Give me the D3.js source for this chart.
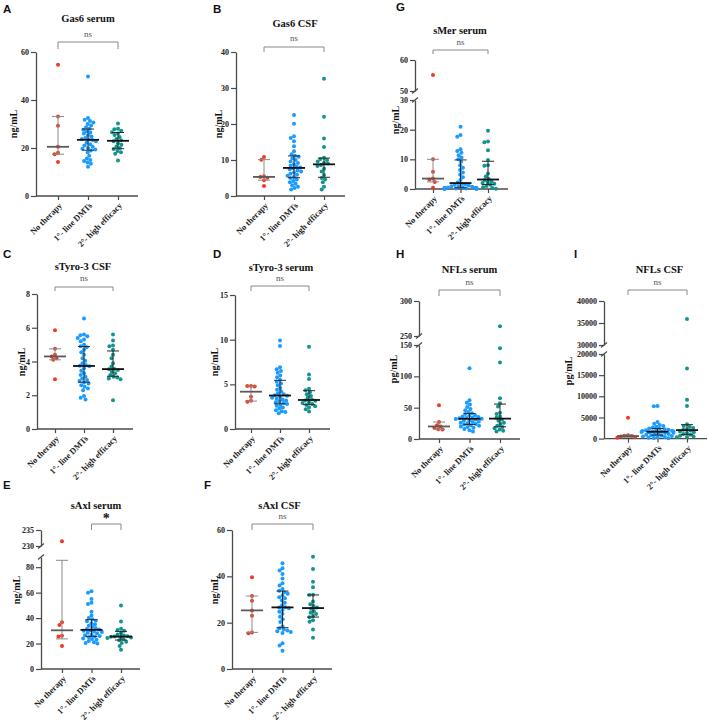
<!DOCTYPE html>
<html>
<head>
<meta charset="utf-8">
<script src="https://cdn.jsdelivr.net/npm/d3@7"></script>
<style>
  body { margin: 0; background: #fff; }
  svg text { font-family: "Liberation Serif", "DejaVu Serif", serif; }
  .letter { font-family: "Liberation Sans", Arial, sans-serif !important; font-weight: bold; font-size: 11.5px; fill: #111; }
  .title { font-weight: bold; font-size: 10.5px; fill: #111; }
  .unit { font-weight: bold; font-size: 10px; fill: #111; }
  .tick text { font-size: 8px; font-weight: bold; fill: #222; }
  .cat text { font-size: 8.5px; fill: #222; }
  .sig { font-size: 9px; fill: #555; }
</style>
</head>
<body>
<svg id="fig" width="708" height="727"></svg>
<script>
const groups = ["No therapy", "1°- line DMTs", "2°- high efficacy"];
const groupColors = ["#f03a22", "#1c9bff", "#14948f"];

// each panel: [no therapy, 1st line DMTs, 2nd high efficacy]
const gas6Serum = [
  [54.7, 33.1, 29.3, 20.5, 18.0, 17.4, 14.2],
  [49.8, 32.5, 31.8, 31.2, 30.6, 30.0, 29.4, 28.6, 28.0, 27.6, 27.0, 26.5, 26.0, 25.3, 24.8, 24.2, 23.8, 23.5, 23.3, 22.8, 22.2, 21.6, 21.0, 20.5, 20.0, 19.7, 19.4, 19.0, 18.2, 16.8, 15.6, 15.0, 14.6, 14.0, 13.4, 12.2],
  [30.2, 28.0, 27.8, 27.2, 26.6, 26.0, 25.4, 24.6, 23.8, 23.2, 22.8, 22.0, 21.4, 20.6, 20.0, 19.6, 18.8, 18.2, 17.6, 14.8]
];
const gas6CSF = [
  [10.8, 10.1, 5.5, 5.3, 5.1, 4.4, 2.8],
  [22.5, 20.1, 16.6, 16.1, 15.2, 13.8, 12.4, 11.6, 11.2, 10.9, 10.5, 10.0, 9.6, 9.2, 8.8, 8.4, 8.1, 7.9, 7.7, 7.4, 7.1, 6.8, 6.5, 6.2, 5.9, 5.6, 5.3, 5.0, 4.6, 4.2, 3.8, 3.4, 3.0, 2.6, 2.2, 1.8],
  [32.6, 22.0, 16.0, 13.6, 10.6, 10.3, 10.0, 9.6, 9.2, 9.0, 8.6, 8.3, 7.6, 6.8, 5.8, 5.0, 4.6, 3.8, 2.6, 1.8]
];
const sMerSerum = [
  [55.2, 10.0, 5.8, 3.5, 3.2, 2.4, 0.4],
  [21.0, 18.2, 17.6, 13.4, 12.8, 12.2, 11.4, 10.6, 10.0, 9.2, 8.0, 7.2, 6.4, 5.6, 4.8, 4.0, 3.0, 2.2, 1.8, 1.6, 1.4, 1.2, 1.0, 0.9, 0.8, 0.6, 0.5, 0.4, 0.4, 0.3, 0.2, 0.2, 0.1, 0.1, 0.0, 0.0],
  [19.6, 16.0, 15.8, 13.1, 9.8, 8.0, 7.8, 5.2, 4.2, 3.4, 3.0, 2.6, 2.2, 2.0, 1.8, 1.4, 1.0, 0.6, 0.3, 0.1]
];
const sTyro3CSF = [
  [5.85, 4.75, 4.4, 4.3, 4.2, 4.1, 2.95],
  [6.55, 5.6, 5.55, 5.5, 5.4, 5.3, 5.2, 5.0, 4.9, 4.85, 4.7, 4.55, 4.4, 4.2, 4.05, 3.9, 3.8, 3.75, 3.72, 3.6, 3.45, 3.3, 3.2, 3.1, 3.0, 2.9, 2.85, 2.75, 2.7, 2.6, 2.5, 2.4, 2.3, 1.95, 1.85, 1.75],
  [5.6, 5.25, 4.95, 4.9, 4.7, 4.4, 4.2, 3.9, 3.7, 3.56, 3.54, 3.5, 3.4, 3.3, 3.2, 3.1, 3.05, 3.0, 2.95, 1.7]
];
const sTyro3Serum = [
  [4.82, 4.8, 4.75, 3.6, 3.15, 3.05],
  [9.9, 9.3, 6.9, 6.7, 6.5, 6.3, 6.0, 5.8, 5.5, 5.3, 5.1, 4.9, 4.6, 4.4, 4.2, 4.0, 3.9, 3.78, 3.72, 3.6, 3.5, 3.4, 3.3, 3.2, 3.1, 3.0, 2.9, 2.8, 2.7, 2.6, 2.4, 2.3, 2.1, 2.0, 1.9, 1.75],
  [9.2, 6.1, 5.6, 4.5, 4.35, 4.1, 3.9, 3.7, 3.5, 3.3, 3.2, 3.15, 3.0, 2.9, 2.8, 2.7, 2.55, 2.4, 2.2, 1.95]
];
const nflSerum = [
  [54, 27, 22, 20, 18, 15.5, 15],
  [113, 62, 58, 55, 51, 48, 46, 43, 41, 40, 38, 37, 36, 35, 34, 33.5, 33, 32.5, 32, 31, 30, 29, 28, 27, 26, 25, 24, 23, 22, 21, 20, 19, 18, 16, 14, 12],
  [264, 145, 122, 65, 57, 52, 42, 40, 36, 34, 31, 29, 26, 24, 21, 19, 17, 15, 13, 12]
];
const nflCSF = [
  [4900, 800, 700, 600, 500, 300, 200],
  [7700, 7650, 3900, 3500, 3200, 3000, 2800, 2600, 2400, 2300, 2200, 2100, 2000, 1900, 1850, 1800, 1700, 1650, 1600, 1550, 1500, 1400, 1300, 1200, 1100, 1000, 900, 800, 700, 600, 500, 400, 300, 200, 150, 100],
  [35900, 16600, 9200, 7700, 3400, 3000, 2800, 2500, 2200, 2100, 1900, 1700, 1500, 1300, 1100, 900, 700, 500, 400, 300]
];
const sAxlSerum = [
  [231.5, 36.7, 34.6, 26.2, 25.5, 18.1],
  [61, 60, 55, 52, 51, 45, 42, 40, 39, 38, 37.5, 36, 35, 34, 33, 32, 31.5, 31, 30.5, 30, 29.5, 29, 28.5, 28, 27, 26.5, 26, 25.5, 25, 24, 23.5, 23, 22, 21, 20.5, 20],
  [49.9, 37.4, 31.6, 30.6, 30.0, 28.2, 27.2, 26.4, 25.8, 25.5, 25.4, 25.2, 24.8, 24.3, 23.5, 22.5, 21.5, 20.4, 18.0, 15.2]
];
const sAxlCSF = [
  [39.6, 31.5, 29.5, 25.3, 23.0, 15.8, 15.4],
  [45.6, 43.5, 42.5, 41.0, 39.1, 37.0, 36.0, 34.5, 33.8, 33.1, 32.5, 31.7, 31.0, 30.5, 29.6, 28.6, 27.5, 26.7, 26.5, 26.2, 25.5, 24.7, 23.8, 22.6, 21.5, 20.3, 18.5, 17.6, 17.0, 16.6, 16.3, 16.0, 15.5, 11.1, 10.1, 7.9],
  [48.5, 43.2, 37.7, 35.3, 32.0, 31.9, 29.1, 28.0, 27.2, 26.6, 26.0, 25.0, 24.3, 23.7, 22.8, 22.3, 21.0, 20.4, 17.1, 13.5]
];

// y ticks per axis segment (lower segment first)
const gas6SerumTicks = [[0, 20, 40, 60]];
const gas6CSFTicks = [[0, 10, 20, 30, 40]];
const sMerTicks = [[0, 10, 20, 30], [50, 60]];
const sTyro3CSFTicks = [[0, 2, 4, 6, 8]];
const sTyro3SerumTicks = [[0, 5, 10, 15]];
const nflSerumTicks = [[0, 50, 100, 150], [250, 300]];
const nflCSFTicks = [[0, 5000, 10000, 15000, 20000], [30000, 35000, 40000]];
const sAxlSerumTicks = [[0, 20, 40, 60, 80], [230, 235]];
const sAxlCSFTicks = [[0, 20, 40, 60]];

const panels = [
  { letter: "A", lx: 3, ly: 13, title: "Gas6 serum", tx: 88, ty: 22, unit: "ng/mL", ux: 13, uy: 124,
    data: gas6Serum, ticks: gas6SerumTicks, ax: 36, xEnd: 138, cx: [58, 118], bottom: 196,
    segs: [{ dom: [0, 60], rng: [196, 52] }], sig: { text: "ns", a: 0, b: 2, by: 42, bh: 7, ty: 37 } },
  { letter: "B", lx: 213, ly: 13, title: "Gas6 CSF", tx: 295, ty: 27, unit: "ng/mL", ux: 218, uy: 124,
    data: gas6CSF, ticks: gas6CSFTicks, ax: 236, xEnd: 345, cx: [264, 324], bottom: 196,
    segs: [{ dom: [0, 40], rng: [196, 52] }], sig: { text: "ns", a: 0, b: 2, by: 47, bh: 5, ty: 41 } },
  { letter: "G", lx: 396, ly: 11, title: "sMer serum", tx: 460, ty: 34, unit: "ng/mL", ux: 395, uy: 120,
    data: sMerSerum, ticks: sMerTicks, ax: 415, xEnd: 508, cx: [433, 488], bottom: 189,
    segs: [{ dom: [0, 30], rng: [189, 100] }, { dom: [50, 60], rng: [91, 60] }], sig: { text: "ns", a: 0, b: 2, by: 50, bh: 4, ty: 45 } },
  { letter: "C", lx: 3, ly: 258, title: "sTyro-3 CSF", tx: 83, ty: 270, unit: "ng/mL", ux: 21, uy: 362,
    data: sTyro3CSF, ticks: sTyro3CSFTicks, ax: 37, xEnd: 133, cx: [55, 113], bottom: 429,
    segs: [{ dom: [0, 8], rng: [429, 294] }], sig: { text: "ns", a: 0, b: 2, by: 287, bh: 4, ty: 281 } },
  { letter: "D", lx: 213, ly: 258, title: "sTyro-3 serum", tx: 281, ty: 271, unit: "ng/mL", ux: 214, uy: 362,
    data: sTyro3Serum, ticks: sTyro3SerumTicks, ax: 235, xEnd: 330, cx: [251, 309], bottom: 429,
    segs: [{ dom: [0, 15], rng: [429, 295] }], sig: { text: "ns", a: 0, b: 2, by: 286, bh: 5, ty: 281 } },
  { letter: "H", lx: 396, ly: 258, title: "NFLs serum", tx: 469.5, ty: 273, unit: "pg/mL", ux: 393, uy: 369,
    data: nflSerum, ticks: nflSerumTicks, ax: 419, xEnd: 520, cx: [439, 500], bottom: 439,
    segs: [{ dom: [0, 150], rng: [439, 345] }, { dom: [250, 300], rng: [336, 301] }], sig: { text: "ns", a: 0, b: 2, by: 290, bh: 6, ty: 285 } },
  { letter: "I", lx: 574, ly: 258, title: "NFLs CSF", tx: 659.5, ty: 273, unit: "pg/mL", ux: 568, uy: 371,
    data: nflCSF, ticks: nflCSFTicks, ax: 604, xEnd: 707, cx: [628, 687], bottom: 438.6,
    segs: [{ dom: [0, 20000], rng: [438.6, 354] }, { dom: [30000, 40000], rng: [345, 301] }], sig: { text: "ns", a: 0, b: 2, by: 290, bh: 5, ty: 285 } },
  { letter: "E", lx: 3, ly: 489, title: "sAxl serum", tx: 96, ty: 509, unit: "ng/mL", ux: 16, uy: 590,
    data: sAxlSerum, ticks: sAxlSerumTicks, ax: 41, xEnd: 140, cx: [62, 121], bottom: 669,
    segs: [{ dom: [0, 88], rng: [669, 557] }, { dom: [230, 235], rng: [546, 530] }], sig: { text: "*", a: 1, b: 2, by: 524, bh: 6, ty: 523 } },
  { letter: "F", lx: 204, ly: 489, title: "sAxl CSF", tx: 279.5, ty: 509, unit: "ng/mL", ux: 214, uy: 590,
    data: sAxlCSF, ticks: sAxlCSFTicks, ax: 232, xEnd: 332, cx: [252, 313], bottom: 669,
    segs: [{ dom: [0, 60], rng: [669, 530] }], sig: { text: "ns", a: 0, b: 2, by: 524, bh: 6, ty: 519 } }
];

const svg = d3.select("#fig");
const AXC = "#4a4a4a";
const R = 2;

// quartiles the way Prism does it: position p*(n+1)
function quant(s, p) {
  const n = s.length, pos = p * (n + 1);
  if (pos <= 1) return s[0];
  if (pos >= n) return s[n - 1];
  const lo = Math.floor(pos), f = pos - lo;
  return s[lo - 1] + f * (s[lo] - s[lo - 1]);
}

// simple beeswarm: smallest horizontal shift that avoids (most) overlap
function swarm(ys, r) {
  const d = 2 * r - 0.3;
  const order = ys.map((y, i) => i).sort((a, b) => ys[a] - ys[b]);
  const placed = [];
  const xs = new Array(ys.length);
  order.forEach(i => {
    const y = ys[i];
    const blocks = placed.filter(p => Math.abs(p.y - y) < d).map(p => {
      const w = Math.sqrt(d * d - (p.y - y) * (p.y - y));
      return [p.x - w, p.x + w];
    });
    let cands = [0];
    blocks.forEach(b => cands.push(b[0], b[1]));
    cands = cands.filter(c => blocks.every(b => c <= b[0] + 1e-6 || c >= b[1] - 1e-6));
    cands.sort((a, b) => Math.abs(a) - Math.abs(b) || a - b);
    xs[i] = Math.max(-16, Math.min(16, cands[0]));
    placed.push({ x: xs[i], y: y });
  });
  return xs;
}

panels.forEach(p => {
  const g = svg.append("g");
  g.append("text").attr("class", "letter").attr("x", p.lx).attr("y", p.ly).text(p.letter);
  g.append("text").attr("class", "title").attr("x", p.tx).attr("y", p.ty)
    .attr("text-anchor", "middle").text(p.title);

  const segs = p.segs.map((s, i) => ({
    scale: d3.scaleLinear().domain(s.dom).range(s.rng),
    ticks: p.ticks[i]
  }));
  const yOf = v => {
    for (let i = segs.length - 1; i >= 0; i--) {
      if (v >= segs[i].scale.domain()[0]) return segs[i].scale(v);
    }
    return segs[0].scale(v);
  };

  // y axis segments
  segs.forEach(s => {
    const a = g.append("g").attr("transform", `translate(${p.ax},0)`)
      .call(d3.axisLeft(s.scale).tickValues(s.ticks).tickFormat(d => String(d))
        .tickSize(5).tickSizeOuter(0).tickPadding(2));
    a.select(".domain").attr("stroke", AXC).attr("stroke-width", 1.3);
    a.selectAll(".tick line").attr("stroke", AXC).attr("stroke-width", 1.2);
  });
  // break marks
  if (segs.length > 1) {
    const yb = [segs[0].scale.range()[1], segs[1].scale.range()[0]];
    yb.forEach(y => {
      g.append("line").attr("x1", p.ax - 3).attr("x2", p.ax + 3)
        .attr("y1", y + 2.5).attr("y2", y - 2.5)
        .attr("stroke", AXC).attr("stroke-width", 1.2);
    });
  }
  g.append("text").attr("class", "unit")
    .attr("transform", `translate(${p.ux},${p.uy}) rotate(-90)`)
    .attr("text-anchor", "middle").attr("dy", "0.35em").text(p.unit);

  // x axis
  const x = d3.scalePoint().domain(groups).range(p.cx);
  const xa = g.append("g").attr("class", "cat").attr("transform", `translate(0,${p.bottom})`)
    .call(d3.axisBottom(x).tickSize(4).tickSizeOuter(0));
  xa.select(".domain").attr("d", `M${p.ax},0H${p.xEnd}`).attr("stroke", AXC).attr("stroke-width", 1.3);
  xa.selectAll(".tick line").attr("stroke", AXC).attr("stroke-width", 1.2);
  xa.selectAll(".tick text").attr("x", 0).attr("y", 0).attr("dy", "0.35em")
    .attr("text-anchor", "end").attr("transform", "translate(2,8) rotate(-45)");

  // points + median / IQR
  p.data.forEach((vals, gi) => {
    const cx = x(groups[gi]);
    const ys = vals.map(yOf);
    const xs = swarm(ys, R);
    g.append("g").selectAll("circle").data(vals).join("circle")
      .attr("cx", (d, i) => cx + xs[i]).attr("cy", (d, i) => ys[i])
      .attr("r", R).attr("fill", groupColors[gi]);

    const s = vals.slice().sort((a, b) => a - b);
    const med = quant(s, 0.5), q1 = quant(s, 0.25), q3 = quant(s, 0.75);
    const medC = gi === 0 ? "#5a5a5a" : "#111";
    const barC = gi === 0 ? "#8a8a8a" : "#2a2a2a";
    const eb = g.append("g").attr("fill", "none");
    eb.append("path").attr("d", `M${cx},${yOf(q1)}V${yOf(q3)}M${cx - 6},${yOf(q1)}H${cx + 6}M${cx - 6},${yOf(q3)}H${cx + 6}`)
      .attr("stroke", barC).attr("stroke-width", 1);
    eb.append("line").attr("x1", cx - 11).attr("x2", cx + 11)
      .attr("y1", yOf(med)).attr("y2", yOf(med))
      .attr("stroke", medC).attr("stroke-width", 1.8);
  });

  // significance bracket
  const sg = p.sig;
  const xa0 = x(groups[sg.a]), xb0 = x(groups[sg.b]);
  g.append("path").attr("d", `M${xa0},${sg.by + sg.bh}V${sg.by}H${xb0}V${sg.by + sg.bh}`)
    .attr("fill", "none").attr("stroke", "#888").attr("stroke-width", 1);
  const st = g.append("text").attr("class", "sig").attr("x", (xa0 + xb0) / 2).attr("y", sg.ty)
    .attr("text-anchor", "middle").text(sg.text);
  if (sg.text === "*") st.style("font-size", "14px").style("font-weight", "bold").style("fill", "#111");
});
</script>
</body>
</html>
